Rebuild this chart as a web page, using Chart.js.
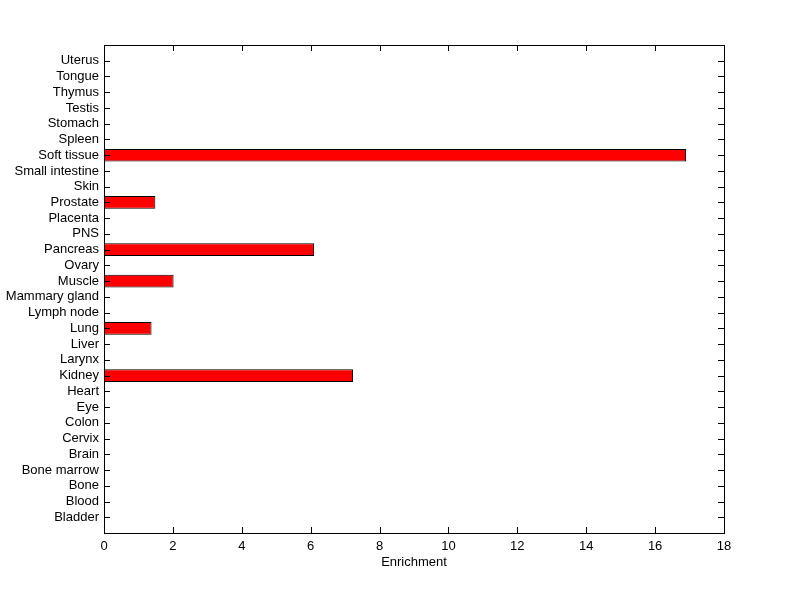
<!DOCTYPE html>
<html>
<head>
<meta charset="utf-8">
<script src="https://cdn.jsdelivr.net/npm/chart.js@4"></script>
<style>
  html, body { margin: 0; padding: 0; background: #fff; }
  #wrap { width: 800px; height: 599px; }
</style>
</head>
<body>
<div id="wrap"><canvas id="myChart" width="800" height="599"></canvas></div>
<script>
// categories listed bottom to top
const tissues = ['Bladder', 'Blood', 'Bone', 'Bone marrow', 'Brain', 'Cervix', 'Colon', 'Eye', 'Heart', 'Kidney',
  'Larynx', 'Liver', 'Lung', 'Lymph node', 'Mammary gland', 'Muscle', 'Ovary', 'Pancreas', 'PNS', 'Placenta',
  'Prostate', 'Skin', 'Small intestine', 'Soft tissue', 'Spleen', 'Stomach', 'Testis', 'Thymus', 'Tongue', 'Uterus'];
const enrichment = [0, 0, 0, 0, 0, 0, 0, 0, 0, 7.23,
  0, 0, 1.38, 0, 0, 2.02, 0, 6.10, 0, 0,
  1.49, 0, 0, 16.90, 0, 0, 0, 0, 0, 0];
const xTicks = [0, 2, 4, 6, 8, 10, 12, 14, 16, 18];

const fontFam = '"Liberation Sans", Arial, Helvetica, sans-serif';

// matlab-style inward ticks + box
const boxTicks = {
  id: 'boxTicks',
  afterDraw(chart) {
    const {ctx, chartArea: a, scales} = chart;
    const len = 6;
    ctx.save();
    ctx.strokeStyle = '#000';
    ctx.lineWidth = 1;
    ctx.beginPath();
    xTicks.forEach(v => {
      const px = Math.round(scales.x.getPixelForValue(v)) + 0.5;
      ctx.moveTo(px, a.bottom); ctx.lineTo(px, a.bottom - len);
      ctx.moveTo(px, a.top); ctx.lineTo(px, a.top + len);
    });
    tissues.forEach((t, i) => {
      const py = Math.round(scales.y.getPixelForValue(i + 1)) + 0.5;
      ctx.moveTo(a.left, py); ctx.lineTo(a.left + len, py);
      ctx.moveTo(a.right, py); ctx.lineTo(a.right - len, py);
    });
    ctx.stroke();
    ctx.strokeRect(Math.round(a.left) + 0.5, Math.round(a.top) + 0.5,
      Math.round(a.right - a.left), Math.round(a.bottom - a.top));
    ctx.restore();
  }
};

const config = {
  type: 'bar',
  data: {
    datasets: [{
      label: 'Enrichment',
      data: tissues.map((t, i) => ({x: enrichment[i], y: i + 1})),
      backgroundColor: '#ff0000',
      borderColor: '#000000',
      borderWidth: 1,
      borderSkipped: false,
      barPercentage: 0.8,
      categoryPercentage: 1.0
    }]
  },
  options: {
    indexAxis: 'y',
    responsive: false,
    animation: false,
    layout: { padding: { top: 45, right: 76, left: 0, bottom: 0 } },
    plugins: { legend: { display: false }, tooltip: { enabled: false } },
    scales: {
      x: {
        type: 'linear',
        min: 0,
        max: 18,
        grid: { display: false, drawTicks: false },
        border: { display: false },
        afterBuildTicks: s => { s.ticks = xTicks.map(v => ({value: v})); },
        ticks: { color: '#000', padding: 6, maxRotation: 0, font: { family: fontFam, size: 13 } },
        title: { display: true, text: 'Enrichment', color: '#000', padding: { top: 0, bottom: 29 },
          font: { family: fontFam, size: 13 } },
        afterFit: s => { s.height = 66; }
      },
      y: {
        type: 'linear',
        offset: false,
        min: 0,
        max: 31,
        grid: { display: false, drawTicks: false },
        border: { display: false },
        afterBuildTicks: s => { s.ticks = tissues.map((t, i) => ({value: i + 1})); },
        ticks: {
          color: '#000',
          padding: 5,
          autoSkip: false,
          font: { family: fontFam, size: 13 },
          callback: v => tissues[v - 1] || ''
        },
        afterFit: s => { s.width = 104; }
      }
    }
  },
  plugins: [boxTicks]
};

const ctx = document.getElementById('myChart').getContext('2d');
new Chart(ctx, config);
</script>
</body>
</html>
